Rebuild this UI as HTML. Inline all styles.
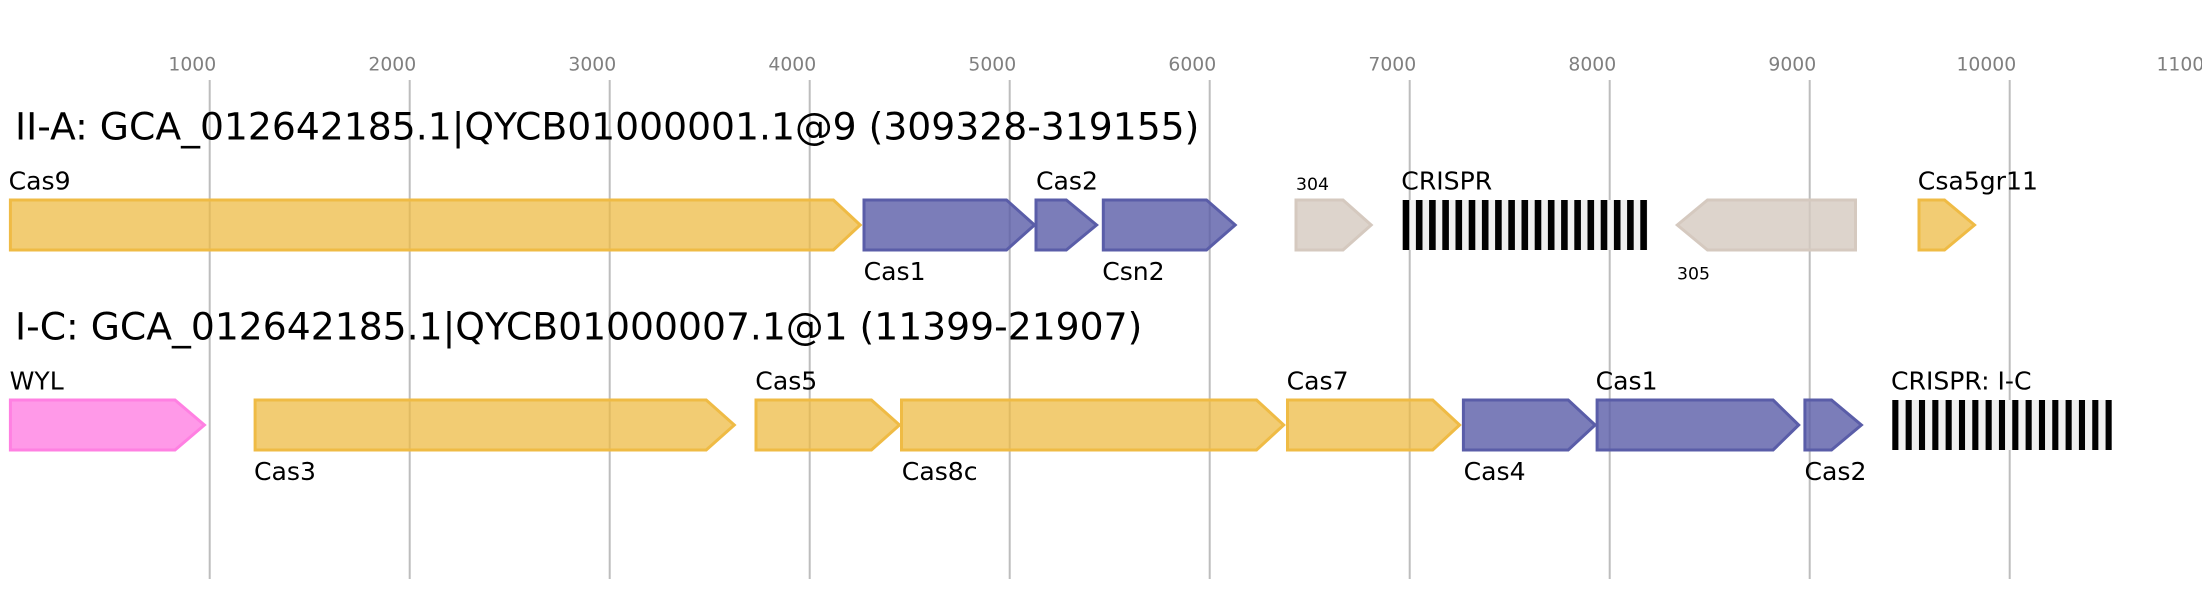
<!DOCTYPE html>
<html>
<head>
<meta charset="utf-8">
<style>
  html, body { margin: 0; padding: 0; background: #ffffff; }
  svg { display: block; }
  text { font-family: "DejaVu Sans", "Liberation Sans", sans-serif; }
  .tick { font-size: 18.8px; fill: #808080; }
  .title { font-size: 37.7px; fill: #000; }
  .lbl { font-size: 25.1px; fill: #000; }
  .sm { font-size: 17.3px; fill: #000; }
  .y { fill: #eebb44; fill-opacity: 0.75; stroke: #efbb45; stroke-width: 3; }
  .p { fill: #5a5da8; fill-opacity: 0.8; stroke: #5a5da8; stroke-width: 3; }
  .k { fill: #ff80e2; fill-opacity: 0.8; stroke: #ff80e2; stroke-width: 3; }
  .g { fill: #d5c9bf; fill-opacity: 0.8; stroke: #d5c9bf; stroke-width: 3; }
</style>
</head>
<body>
<svg width="2202" height="600" viewBox="0 0 2202 600" xmlns="http://www.w3.org/2000/svg">
  <rect x="0" y="0" width="2202" height="600" fill="#ffffff"/>

  <!-- gridlines -->
  <g stroke="#bdbdbd" stroke-width="2">
    <line x1="209.7" y1="80" x2="209.7" y2="579"/>
    <line x1="409.7" y1="80" x2="409.7" y2="579"/>
    <line x1="609.7" y1="80" x2="609.7" y2="579"/>
    <line x1="809.7" y1="80" x2="809.7" y2="579"/>
    <line x1="1009.7" y1="80" x2="1009.7" y2="579"/>
    <line x1="1209.7" y1="80" x2="1209.7" y2="579"/>
    <line x1="1409.7" y1="80" x2="1409.7" y2="579"/>
    <line x1="1609.7" y1="80" x2="1609.7" y2="579"/>
    <line x1="1809.7" y1="80" x2="1809.7" y2="579"/>
    <line x1="2009.7" y1="80" x2="2009.7" y2="579"/>
  </g>

  <!-- tick labels -->
  <g class="tick" text-anchor="end">
    <text x="216.2" y="70.5">1000</text>
    <text x="416.2" y="70.5">2000</text>
    <text x="616.2" y="70.5">3000</text>
    <text x="816.2" y="70.5">4000</text>
    <text x="1016.2" y="70.5">5000</text>
    <text x="1216.2" y="70.5">6000</text>
    <text x="1416.2" y="70.5">7000</text>
    <text x="1616.2" y="70.5">8000</text>
    <text x="1816.2" y="70.5">9000</text>
    <text x="2016.2" y="70.5">10000</text>
    <text x="2216.2" y="70.5">11000</text>
  </g>

  <!-- titles -->
  <text class="title" x="15" y="139.3">II-A: GCA_012642185.1|QYCB01000001.1@9 (309328-319155)</text>
  <text class="title" x="15" y="339.3">I-C: GCA_012642185.1|QYCB01000007.1@1 (11399-21907)</text>

  <!-- Row 1 genes -->
  <path class="y" d="M10.4,200 L833.4,200 L860.2,225 L833.4,250 L10.4,250 Z"/>
  <path class="p" d="M864,200 L1006.5,200 L1034.5,225 L1006.5,250 L864,250 Z"/>
  <path class="p" d="M1036,200 L1066.3,200 L1096.6,225 L1066.3,250 L1036,250 Z"/>
  <path class="p" d="M1103.3,200 L1206.5,200 L1235.2,225 L1206.5,250 L1103.3,250 Z"/>
  <path class="g" d="M1296,200 L1343,200 L1371.2,225 L1343,250 L1296,250 Z"/>
  <path class="g" d="M1677.3,225 L1707.5,200 L1855.5,200 L1855.5,250 L1707.5,250 Z"/>
  <path class="y" d="M1919,200 L1944.5,200 L1974.5,225 L1944.5,250 L1919,250 Z"/>

  <!-- Row 1 CRISPR -->
  <rect x="1402.7" y="200" width="245" height="50" fill="#f0f0f0"/>
  <g fill="#000">
    <rect x="1402.7" y="200" width="6.6" height="50"/>
    <rect x="1415.9" y="200" width="6.6" height="50"/>
    <rect x="1429.1" y="200" width="6.6" height="50"/>
    <rect x="1442.3" y="200" width="6.6" height="50"/>
    <rect x="1455.5" y="200" width="6.6" height="50"/>
    <rect x="1468.7" y="200" width="6.6" height="50"/>
    <rect x="1481.9" y="200" width="6.6" height="50"/>
    <rect x="1495.1" y="200" width="6.6" height="50"/>
    <rect x="1508.3" y="200" width="6.6" height="50"/>
    <rect x="1521.5" y="200" width="6.6" height="50"/>
    <rect x="1534.7" y="200" width="6.6" height="50"/>
    <rect x="1547.9" y="200" width="6.6" height="50"/>
    <rect x="1561.1" y="200" width="6.6" height="50"/>
    <rect x="1574.3" y="200" width="6.6" height="50"/>
    <rect x="1587.5" y="200" width="6.6" height="50"/>
    <rect x="1600.7" y="200" width="6.6" height="50"/>
    <rect x="1613.9" y="200" width="6.6" height="50"/>
    <rect x="1627.1" y="200" width="6.6" height="50"/>
    <rect x="1640.3" y="200" width="6.6" height="50"/>
  </g>

  <!-- Row 1 labels -->
  <text class="lbl" x="8.6" y="189.3">Cas9</text>
  <text class="lbl" x="1036" y="189.3">Cas2</text>
  <text class="sm" x="1296" y="190">304</text>
  <text class="lbl" x="1401.3" y="189.3">CRISPR</text>
  <text class="lbl" x="1917.8" y="189.3">Csa5gr11</text>
  <text class="lbl" x="863.6" y="280">Cas1</text>
  <text class="lbl" x="1102.2" y="280">Csn2</text>
  <text class="sm" x="1677" y="279.3">305</text>

  <!-- Row 2 genes -->
  <path class="k" d="M10.4,400 L175,400 L204.4,425 L175,450 L10.4,450 Z"/>
  <path class="y" d="M255.1,400 L706.2,400 L734.3,425 L706.2,450 L255.1,450 Z"/>
  <path class="y" d="M756,400 L871.4,400 L899.5,425 L871.4,450 L756,450 Z"/>
  <path class="y" d="M901.5,400 L1256.5,400 L1283.7,425 L1256.5,450 L901.5,450 Z"/>
  <path class="y" d="M1287.5,400 L1432.7,400 L1459.6,425 L1432.7,450 L1287.5,450 Z"/>
  <path class="p" d="M1463.4,400 L1568.2,400 L1595.1,425 L1568.2,450 L1463.4,450 Z"/>
  <path class="p" d="M1597.1,400 L1773.1,400 L1798.7,425 L1773.1,450 L1597.1,450 Z"/>
  <path class="p" d="M1804.9,400 L1831.5,400 L1861.4,425 L1831.5,450 L1804.9,450 Z"/>

  <!-- Row 2 CRISPR -->
  <rect x="1892.3" y="400" width="219.4" height="50" fill="#f0f0f0"/>
  <g fill="#000">
    <rect x="1892.3" y="400" width="6.1" height="50"/>
    <rect x="1905.63" y="400" width="6.1" height="50"/>
    <rect x="1918.96" y="400" width="6.1" height="50"/>
    <rect x="1932.29" y="400" width="6.1" height="50"/>
    <rect x="1945.62" y="400" width="6.1" height="50"/>
    <rect x="1958.95" y="400" width="6.1" height="50"/>
    <rect x="1972.28" y="400" width="6.1" height="50"/>
    <rect x="1985.61" y="400" width="6.1" height="50"/>
    <rect x="1998.94" y="400" width="6.1" height="50"/>
    <rect x="2012.27" y="400" width="6.1" height="50"/>
    <rect x="2025.6" y="400" width="6.1" height="50"/>
    <rect x="2038.93" y="400" width="6.1" height="50"/>
    <rect x="2052.26" y="400" width="6.1" height="50"/>
    <rect x="2065.59" y="400" width="6.1" height="50"/>
    <rect x="2078.92" y="400" width="6.1" height="50"/>
    <rect x="2092.25" y="400" width="6.1" height="50"/>
    <rect x="2105.58" y="400" width="6.1" height="50"/>
  </g>

  <!-- Row 2 labels -->
  <text class="lbl" x="9.6" y="389.5">WYL</text>
  <text class="lbl" x="755.3" y="389.5">Cas5</text>
  <text class="lbl" x="1286.6" y="389.5">Cas7</text>
  <text class="lbl" x="1595.6" y="389.5">Cas1</text>
  <text class="lbl" x="1891" y="389.5">CRISPR: I-C</text>
  <text class="lbl" x="254" y="480">Cas3</text>
  <text class="lbl" x="901.8" y="480">Cas8c</text>
  <text class="lbl" x="1463.6" y="480">Cas4</text>
  <text class="lbl" x="1804.5" y="480">Cas2</text>
</svg>
</body>
</html>
